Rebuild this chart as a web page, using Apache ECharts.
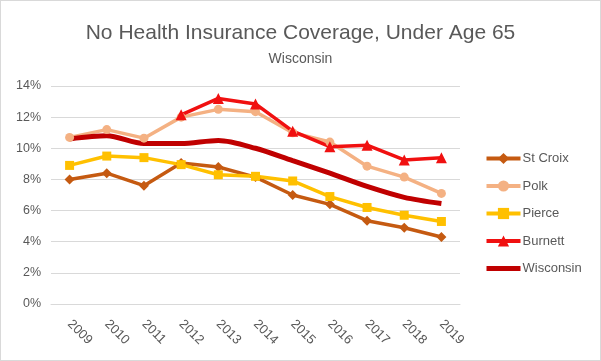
<!DOCTYPE html>
<html>
<head>
<meta charset="utf-8">
<script src="https://cdn.jsdelivr.net/npm/echarts@6/dist/echarts.min.js"></script>
<style>
html,body{margin:0;padding:0;background:#fff;}
#c{width:599px;height:359px;border:1px solid #D9D9D9;}
</style>
</head>
<body>
<div id="c"></div>
<script>
const years = ['2009','2010','2011','2012','2013','2014','2015','2016','2017','2018','2019'];
const stCroix = [8.0, 8.4, 7.6, 9.05, 8.8, 8.15, 7.0, 6.4, 5.35, 4.9, 4.3];
const polk = [10.7, 11.2, 10.65, 12.0, 12.5, 12.35, 11.0, 10.4, 8.85, 8.15, 7.1];
const pierce = [8.9, 9.5, 9.4, 8.95, 8.3, 8.2, 7.9, 6.9, 6.2, 5.7, 5.3];
const burnett = [null, null, null, 12.15, 13.2, 12.85, 11.1, 10.1, 10.2, 9.25, 9.4];
const wisconsin = [10.6, 10.8, 10.3, 10.3, 10.5, 10.0, 9.2, 8.4, 7.55, 6.85, 6.45];
const yTicks = {min: 0, max: 14, interval: 2};

const chart = echarts.init(document.getElementById('c'), null, {renderer: 'canvas'});
const font = 'Liberation Sans';
function line(name, data, color, symbol, size, width, smooth) {
  return {
    name: name, type: 'line', data: data, smooth: smooth || false,
    symbol: symbol, symbolSize: size, showSymbol: symbol !== 'none',
    lineStyle: {color: color, width: width},
    itemStyle: {color: color},
    connectNulls: false
  };
}
chart.setOption({
  animation: false,
  title: [
    {text: 'No Health Insurance Coverage, Under Age 65', left: 'center', top: 17,
     textStyle: {fontFamily: font, fontSize: 21, fontWeight: 'normal', color: '#595959'}},
    {text: 'Wisconsin', left: 'center', top: 46,
     textStyle: {fontFamily: font, fontSize: 14, fontWeight: 'normal', color: '#595959'}}
  ],
  legend: {
    orient: 'vertical', left: 478, top: 146, itemGap: 14.5, itemWidth: 34, itemHeight: 14,
    textStyle: {fontFamily: font, fontSize: 13, color: '#595959', padding: [0,0,0,-3]},
    lineStyle: {width: 4},
    data: ['St Croix','Polk','Pierce','Burnett',
           {name: 'Wisconsin', itemStyle: {opacity: 0}, lineStyle: {width: 5}}]
  },
  grid: {left: 50, right: 140, top: 85, bottom: 56},
  xAxis: {
    type: 'category', data: years, boundaryGap: true,
    axisLine: {show: true, lineStyle: {color: '#D9D9D9'}},
    axisTick: {show: false},
    axisLabel: {rotate: -45, color: '#595959', fontFamily: font, fontSize: 13, margin: 18, interval: 0}
  },
  yAxis: {
    type: 'value', min: yTicks.min, max: yTicks.max, interval: yTicks.interval,
    axisLine: {show: false}, axisTick: {show: false},
    axisLabel: {formatter: '{value}%', color: '#595959', fontFamily: font, fontSize: 12.5, margin: 10},
    splitLine: {lineStyle: {color: '#D9D9D9', width: 1}}
  },
  series: [
    line('St Croix', stCroix, '#C55A11', 'diamond', 10, 3.5),
    line('Polk', polk, '#F4B183', 'circle', 9, 3.5),
    line('Pierce', pierce, '#FFC000', 'rect', 9, 3.5),
    line('Burnett', burnett, '#F01010', 'triangle', 11, 3.5),
    line('Wisconsin', wisconsin, '#C00000', 'none', 0, 5, 0.3)
  ]
});
</script>
</body>
</html>
